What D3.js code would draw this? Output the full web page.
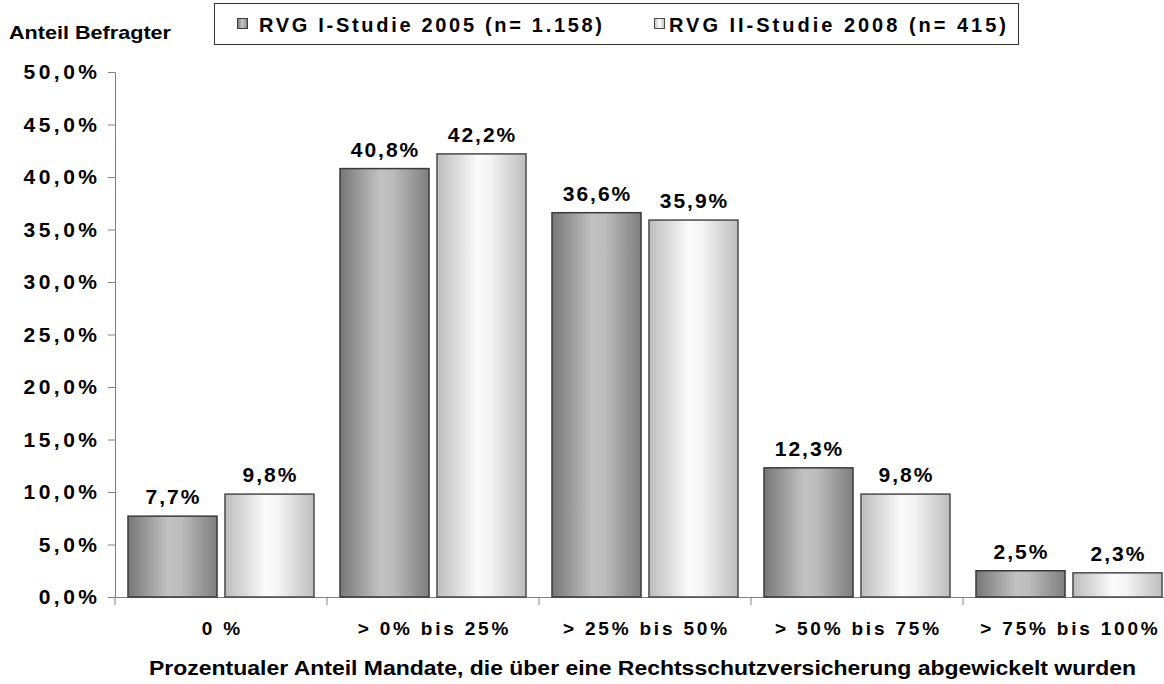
<!DOCTYPE html>
<html>
<head>
<meta charset="utf-8">
<script src="https://cdn.jsdelivr.net/npm/d3@7"></script>
<style>
  body { margin: 0; background: #fff; }
  svg { display: block; font-family: "Liberation Sans", Arial, sans-serif; font-weight: bold; }
</style>
</head>
<body>
<svg id="chart" width="1164" height="684"></svg>
<script>
// Daten
const categories = ["0 %", "> 0% bis 25%", "> 25% bis 50%", "> 50% bis 75%", "> 75% bis 100%"];
const seriesNames = ["RVG I-Studie 2005 (n= 1.158)", "RVG II-Studie 2008 (n= 415)"];
const study2005 = [7.7, 40.8, 36.6, 12.3, 2.5];
const study2008 = [9.8, 42.2, 35.9, 9.8, 2.3];
const yTicks = [0, 5, 10, 15, 20, 25, 30, 35, 40, 45, 50];

const svg = d3.select("#chart");
const fmt = d => d.toFixed(1).replace(".", ",") + "%";
const FONT = "Liberation Sans, Arial, sans-serif";

// Skalen
const x = d3.scaleBand().domain(categories).range([115, 115 + 5 * 212]);
const xs = d3.scaleBand().domain([0, 1]).range([0, x.bandwidth()]).paddingInner(0.082).paddingOuter(0.134);
const y = d3.scaleLinear().domain([0, 50]).range([597, 72]);

// Verläufe
const defs = svg.append("defs");
const grads = [
  { id: "g0", stops: [[0, "#777777"], [0.45, "#c2c2c2"], [0.6, "#bcbcbc"], [1, "#7e7e7e"]] },
  { id: "g1", stops: [[0, "#bcbcbc"], [0.45, "#fbfbfb"], [0.6, "#f4f4f4"], [1, "#bdbdbd"]] }
];
grads.forEach(g => {
  const lg = defs.append("linearGradient").attr("id", g.id).attr("x1", "0").attr("x2", "1").attr("y1", "0").attr("y2", "0");
  g.stops.forEach(s => lg.append("stop").attr("offset", s[0]).attr("stop-color", s[1]));
});
const strokes = ["#3a3a3a", "#4a4a4a"];

// Y-Achse
const yAxis = svg.append("g").attr("transform", "translate(115,0)")
  .call(d3.axisLeft(y).tickValues(yTicks).tickSize(7).tickSizeOuter(7).tickPadding(7.5).tickFormat(fmt));
yAxis.select(".domain").attr("stroke", "#808080");
yAxis.selectAll(".tick line").attr("stroke", "#808080");
yAxis.selectAll(".tick text").attr("font-size", 21).attr("letter-spacing", 3.5).attr("fill", "#000")
  .attr("font-family", FONT).attr("font-weight", "bold");

// X-Achse
const xAxis = svg.append("g").attr("transform", "translate(0,597)")
  .call(d3.axisBottom(x).tickSize(0).tickSizeOuter(0).tickPadding(25));
xAxis.select(".domain").attr("stroke", "#808080");
xAxis.selectAll(".tick text").attr("font-size", 19).attr("letter-spacing", 2.8).attr("fill", "#000")
  .attr("font-family", FONT).attr("font-weight", "bold").attr("dx", 1.4);
xAxis.selectAll(".sep").data(categories).join("line").attr("class", "sep")
  .attr("x1", d => x(d)).attr("x2", d => x(d)).attr("y1", 0).attr("y2", 8).attr("stroke", "#808080");

// Balken
const rows = categories.map((c, i) => ({ c, v: [study2005[i], study2008[i]] }));
const groups = svg.append("g").selectAll("g").data(rows).join("g")
  .attr("transform", d => `translate(${x(d.c)},0)`);
groups.selectAll("rect").data(d => d.v).join("rect")
  .attr("x", (v, i) => xs(i)).attr("width", xs.bandwidth())
  .attr("y", v => y(v)).attr("height", v => y(0) - y(v))
  .attr("fill", (v, i) => `url(#g${i})`).attr("stroke", (v, i) => strokes[i]).attr("stroke-width", 1.5);
groups.selectAll("text").data(d => d.v).join("text")
  .attr("x", (v, i) => xs(i) + xs.bandwidth() / 2 + 1).attr("y", v => y(v) - 12)
  .attr("text-anchor", "middle").attr("font-size", 21).attr("letter-spacing", 2)
  .text(fmt);

// Achsentitel
svg.append("text").attr("x", 9).attr("y", 39).attr("font-size", 19)
  .attr("textLength", 162).attr("lengthAdjust", "spacingAndGlyphs").text("Anteil Befragter");
svg.append("text").attr("x", 149).attr("y", 675).attr("font-size", 20)
  .attr("textLength", 987).attr("lengthAdjust", "spacingAndGlyphs")
  .text("Prozentualer Anteil Mandate, die über eine Rechtsschutzversicherung abgewickelt wurden");

// Legende
const legend = svg.append("g");
legend.append("rect").attr("x", 214.5).attr("y", 3.5).attr("width", 804).attr("height", 41)
  .attr("fill", "#fff").attr("stroke", "#333");
const swX = [237, 654];
const txX = [259, 669];
const txW = [343, 337];
seriesNames.forEach((n, i) => {
  legend.append("rect").attr("x", swX[i] + 0.5).attr("y", 18.5).attr("width", 10).attr("height", 10)
    .attr("fill", `url(#g${i})`).attr("stroke", strokes[i]);
  legend.append("text").attr("x", txX[i]).attr("y", 32).attr("font-size", 20)
    .attr("textLength", txW[i]).attr("lengthAdjust", "spacing").text(n);
});
</script>
</body>
</html>
